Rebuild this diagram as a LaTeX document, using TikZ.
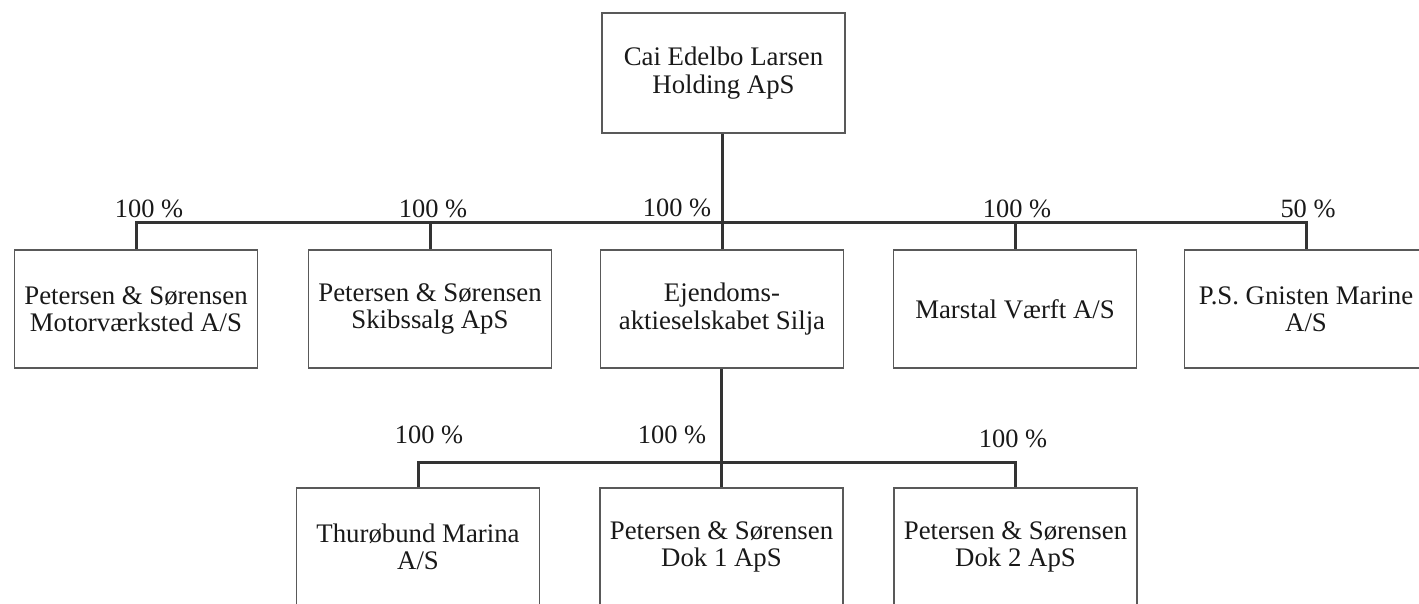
\documentclass[tikz,border=0pt]{standalone}
\usepackage{fontspec}
\setmainfont{Liberation Serif}
\begin{document}
\begin{tikzpicture}[x=0.5pt,y=-0.5pt,
  orgbox/.style={draw=black!65, line width=0.7pt, rectangle, minimum width=121.5pt, minimum height=59pt, inner sep=0pt, align=center, font=\fontsize{13.4}{13.6}\selectfont, text=black!90},
  conn/.style={draw=black!80, line width=1.5pt},
  pct/.style={anchor=base, inner sep=0pt, font=\fontsize{13.2}{14}\selectfont, text=black!90}]
\useasboundingbox (0,0) rectangle (1419,604);
\clip (0,0) rectangle (1419,604);
% boxes
\node[orgbox, minimum height=60pt] (top) at (723.5,73) {Cai Edelbo Larsen\\Holding ApS};
\node[orgbox] (b1) at (136,309) {Petersen \& Sørensen\\Motorværksted A/S};
\node[orgbox] (b2) at (430,309) {Petersen \& Sørensen\\Skibssalg ApS};
\node[orgbox] (b3) at (722,309) {Ejendoms-\\aktieselskabet Silja};
\node[orgbox] (b4) at (1015,309) {Marstal Værft A/S};
\node[orgbox] (b5) at (1306,309) {P.S. Gnisten Marine\\A/S};
\node[orgbox] (c1) at (418,547) {Thurøbund Marina\\A/S};
\node[orgbox] (c2) at (721.5,547) {Petersen \& Sørensen\\Dok 1 ApS};
\node[orgbox] (c3) at (1015.5,547) {Petersen \& Sørensen\\Dok 2 ApS};
% level 1 bar
\coordinate (barL) at (136,223);
\coordinate (barR) at (1306,223);
\coordinate (barM) at (722,223);
\draw[conn] (top.south -| barM) -- (barM);
\draw[conn] (b1.north) -- (b1.north |- barL) -- (barL) -- (barR) -- (b5.north);
\draw[conn] (b2.north) -- (b2.north |- barL);
\draw[conn] (b3.north) -- (barM);
\draw[conn] (b4.north) -- (b4.north |- barL);
% level 2 bar
\coordinate (bar2L) at (418,462);
\coordinate (bar2R) at (1015.5,462);
\coordinate (bar2M) at (721.5,462);
\draw[conn] (b3.south -| bar2M) -- (bar2M);
\draw[conn] (c1.north) -- (bar2L) -- (bar2R) -- (c3.north);
\draw[conn] (c2.north) -- (bar2M);
% percentages
\node[pct] (p1) at (149,218) {100 \%};
\node[pct] (p2) at (433,218) {100 \%};
\node[pct] (p3) at (677,217) {100 \%};
\node[pct] (p4) at (1017,218) {100 \%};
\node[pct] (p5) at (1308,218) {50 \%};
\node[pct] (q1) at (429,443) {100 \%};
\node[pct] (q2) at (672,443) {100 \%};
\node[pct] (q3) at (1013,447) {100 \%};
\end{tikzpicture}
\end{document}
